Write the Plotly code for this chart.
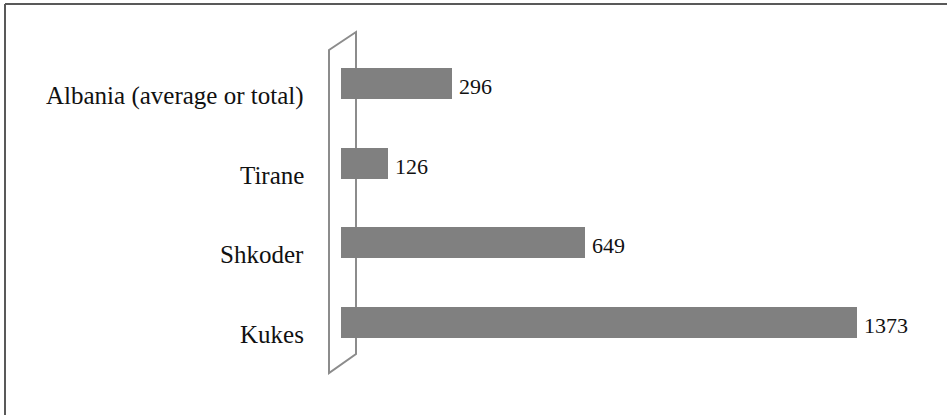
import plotly.graph_objects as go

# Households per district (top to bottom as displayed)
categories = ["Albania (average or total)", "Tirane", "Shkoder", "Kukes"]
values = [296, 126, 649, 1373]

W, H = 947, 415
BAR_COLOR = "#808080"
FONT = "'Liberation Serif', 'Times New Roman', Times, serif"
TEXT_COLOR = "#111111"


def px(x):
    return x / W


def py(y):
    return 1 - y / H


fig = go.Figure()

fig.add_trace(go.Bar(
    x=values,
    y=categories,
    orientation="h",
    width=0.39,
    marker=dict(color=BAR_COLOR, line=dict(width=0)),
    hoverinfo="skip",
))

# category labels, set slightly below each bar as on the 3-D axis wall
annotations = [
    dict(x=px(306), xref="paper", y=c, yref="y", text=c, showarrow=False,
         xanchor="right", yanchor="middle", yshift=-12,
         font=dict(family=FONT, size=25, color=TEXT_COLOR))
    for c in categories
]

# value labels just past the end of each bar
annotations += [
    dict(x=v, xref="x", y=c, yref="y", text=str(v), showarrow=False,
         xanchor="left", yanchor="middle", xshift=5, yshift=-3,
         font=dict(family=FONT, size=22, color=TEXT_COLOR))
    for c, v in zip(categories, values)
]

# 3-D axis wall outline and chart border
wall = (f"M {px(329)},{py(50)} L {px(356)},{py(32)} L {px(356)},{py(354)} "
        f"L {px(329)},{py(373)} Z")
shapes = [
    dict(type="path", xref="paper", yref="paper", path=wall,
         line=dict(color="#8c8c8c", width=2), layer="below"),
    dict(type="line", xref="paper", yref="paper", x0=px(5), x1=px(960),
         y0=py(4), y1=py(4), line=dict(color="#595959", width=2)),
    dict(type="line", xref="paper", yref="paper", x0=px(5), x1=px(5),
         y0=py(4), y1=py(430), line=dict(color="#595959", width=2)),
]

x0_px = 341
scale = (857 - x0_px) / max(values)
fig.update_layout(
    width=W, height=H,
    margin=dict(l=0, r=0, t=0, b=0),
    paper_bgcolor="white", plot_bgcolor="white",
    showlegend=False,
    bargap=0,
    xaxis=dict(range=[-x0_px / scale, (W - x0_px) / scale], visible=False, fixedrange=True),
    yaxis=dict(type="category", categoryorder="array", categoryarray=categories,
               range=[(H - 83.5) / 79.67, -83.5 / 79.67], visible=False, fixedrange=True),
    annotations=annotations,
    shapes=shapes,
)

fig.write_html("out.html")
